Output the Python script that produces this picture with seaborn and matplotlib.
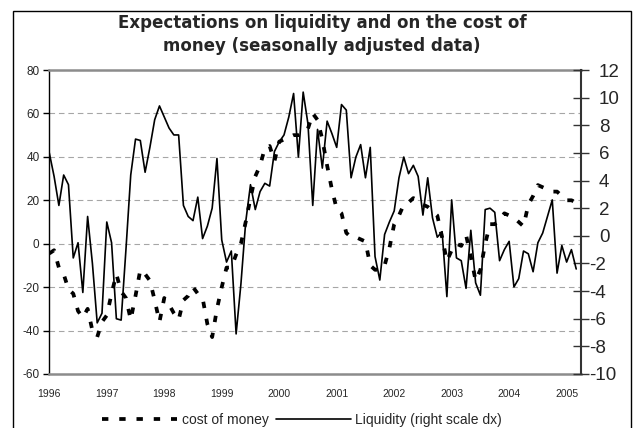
import numpy as np
import pandas as pd
import matplotlib
matplotlib.use("Agg")
import matplotlib.pyplot as plt
import seaborn as sns
from matplotlib.patches import Rectangle
from matplotlib.transforms import ScaledTranslation

# ---------------- data ----------------
year_labels = ["1996", "1997", "1998", "1999", "2000", "2001", "2002", "2003", "2004", "2005"]

cost_of_money = [
    -4.5, -3, -11, -14, -21, -23, -31, -34, -30, -40,
    -43, -36, -33, -23, -14, -22, -25, -35, -24, -12,
    -14, -17, -26, -36, -25, -28, -32, -35, -26, -24,
    -20, -23, -25, -37, -43, -30, -20, -11, -11, -5,
    0, 10, 21, 31, 36, 44, 45, 38, 47, 48,
    49, 50, 50, 51, 53, 60, 57, 48, 36, 25,
    16, 14, 5, 3, 3, 2, 1, -10, -12, -12,
    -10, -2, 9, 13, 18, 19, 21, 20, 18, 17,
    15, 13, 3, -8, -3, 0, -1, 4, -6, -17,
    -12, 0, 9, 9, 11, 14, 13, 12, 10, 8,
    18, 22, 27, 26, 25, 24, 24, 22, 20, 20, 19,
]

liquidity = [
    6.0, 4.3, 2.2, 4.4, 3.7, -1.6, -0.5, -4.1, 1.4, -2.0,
    -6.3, -5.6, 1.0, -0.5, -6.0, -6.1, -1.0, 4.4, 7.0, 6.9,
    4.6, 6.4, 8.4, 9.4, 8.6, 7.8, 7.3, 7.3, 2.2, 1.4,
    1.1, 2.8, -0.2, 0.7, 2.0, 5.6, -0.3, -1.9, -1.1, -7.1,
    -3.5, 1.0, 3.7, 1.9, 3.2, 3.8, 3.6, 6.1, 6.8, 7.3,
    8.6, 10.3, 5.7, 10.4, 8.1, 2.2, 7.7, 4.9, 8.3, 7.4,
    6.4, 9.5, 9.1, 4.2, 5.7, 6.6, 4.2, 6.4, -1.5, -3.2,
    0.1, 1.0, 1.8, 4.2, 5.7, 4.5, 5.1, 4.3, 1.5, 4.2,
    1.3, -0.1, 0.3, -4.4, 2.6, -1.6, -1.8, -3.8, 0.4, -3.4,
    -4.3, 1.9, 2.0, 1.7, -1.8, -1.0, -0.4, -3.7, -3.1, -1.1,
    -1.3, -2.6, -0.5, 0.2, 1.4, 2.6, -2.7, -0.7, -1.9, -1.0, -2.4,
]

title_line1 = "Expectations on liquidity and on the cost of"
title_line2 = "money (seasonally adjusted data)"
series_names = ["cost of money", "Liquidity (right scale dx)"]

# ---------------- style ----------------
sns.set_style("white")
plt.rcParams['font.family'] = ['Liberation Sans', 'DejaVu Sans']
plt.rcParams['axes.unicode_minus'] = False

df = pd.DataFrame({
    "month": np.arange(len(liquidity)),
    "cost": cost_of_money,
    "liq": liquidity,
})

fig = plt.figure(figsize=(6.4, 4.28), dpi=100)
ax = fig.add_axes([49.3 / 640, 1 - 374 / 428, (581 - 49.3) / 640, (374 - 70) / 428])

sns.lineplot(data=df, x="month", y="cost", ax=ax, color="black", lw=2.7,
             linestyle=(0, (1.7, 2.9)), dash_capstyle="butt", legend=False)
ax2 = ax.twinx()
sns.lineplot(data=df, x="month", y="liq", ax=ax2, color="black", lw=1.2, legend=False)

ax.set_xlim(0, 111)
ax.set_ylim(-60, 80)
ax2.set_ylim(-10, 12)
ax.set_xlabel("")
ax.set_ylabel("")
ax2.set_ylabel("")

ax.set_xticks(np.arange(0, 12 * len(year_labels), 12))
ax.set_xticklabels(year_labels)
ax.tick_params(axis="x", bottom=True, length=0, pad=11, labelsize=7.5)
ax.set_yticks(np.arange(-60, 81, 20))
ax.tick_params(axis="y", left=True, direction="out", length=4, width=1,
               pad=3, labelsize=8.5, color="black")
ax2.set_yticks(np.arange(-10, 13, 2))
ax2.tick_params(axis="y", right=True, direction="inout", length=12, width=1,
                pad=7, labelsize=13.5, color="#333333")

ax.yaxis.grid(True, color="#a6a6a6", linestyle=(0, (5, 3.5)), lw=0.8)
ax.xaxis.grid(False)
ax2.grid(False)

for s in ["top", "bottom"]:
    ax.spines[s].set_color("#8c8c8c")
    ax.spines[s].set_linewidth(1.8)
ax.spines["left"].set_color("black")
ax.spines["left"].set_linewidth(1.0)
ax.spines["right"].set_visible(False)
for s in ["top", "bottom", "left"]:
    ax2.spines[s].set_visible(False)
ax2.spines["right"].set_color("#333333")
ax2.spines["right"].set_linewidth(1.5)

# negative right-axis labels hang their minus sign to the left
for lab in ax2.get_yticklabels():
    if lab.get_text().startswith("-"):
        lab.set_transform(lab.get_transform() + ScaledTranslation(-0.10, 0, fig.dpi_scale_trans))

# title
fig.text(322 / 640, 1 - 23 / 428, title_line1, ha="center", va="center",
         fontsize=12, fontweight="bold", family=["DejaVu Sans"])
fig.text(322 / 640, 1 - 46 / 428, title_line2, ha="center", va="center",
         fontsize=12, fontweight="bold", family=["DejaVu Sans"])

# legend
h1 = ax.get_lines()[0]
h2 = ax2.get_lines()[0]
fig.legend([h1, h2], series_names, loc="center", bbox_to_anchor=(302 / 640, 1 - 420 / 428),
           ncol=2, frameon=False, fontsize=10, handlelength=5.4, columnspacing=0.5,
           handletextpad=0.35, borderpad=0, borderaxespad=0)

# outer chart border
fig.patches.append(Rectangle((13 / 640, -0.05), (631 - 13) / 640, 1 - 11 / 428 + 0.05,
                             transform=fig.transFigure, fill=False, lw=1.0, ec="black"))

fig.savefig("out.png", dpi=100)
